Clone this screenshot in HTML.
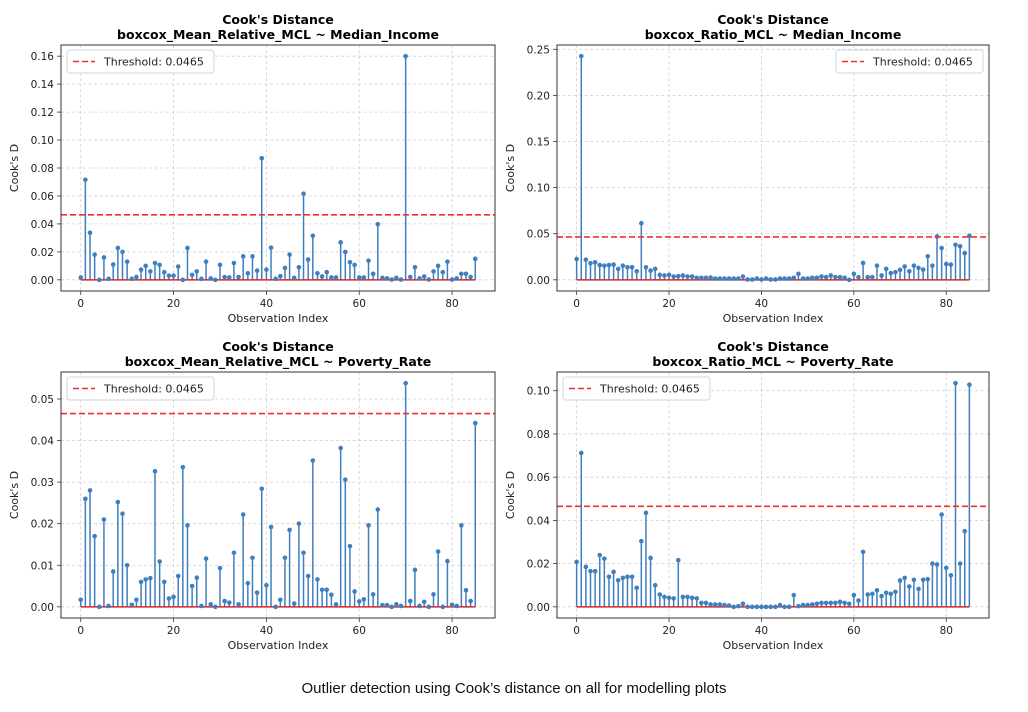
<!DOCTYPE html>
<html><head><meta charset="utf-8">
<style>
html,body{margin:0;padding:0;background:#fff;}
body{width:1028px;height:712px;overflow:hidden;position:relative;font-family:"DejaVu Sans","Liberation Sans",sans-serif;}
#caption{position:absolute;left:0;width:1028px;top:680px;text-align:center;font-family:"Liberation Sans",sans-serif;font-size:15px;color:#111;}
</style></head>
<body>
<svg id="fig" width="1028" height="712" xmlns="http://www.w3.org/2000/svg" style="position:absolute;left:0;top:0"></svg>
<div id="caption">Outlier detection using Cook’s distance on all for modelling plots</div>
<script>
const threshold = 0.0465;
const titles = ["boxcox_Mean_Relative_MCL ~ Median_Income","boxcox_Ratio_MCL ~ Median_Income","boxcox_Mean_Relative_MCL ~ Poverty_Rate","boxcox_Ratio_MCL ~ Poverty_Rate"];
const xTicks = [0,20,40,60,80];
const yTicks1 = [0,0.02,0.04,0.06,0.08,0.10,0.12,0.14,0.16];
const yTicks2 = [0,0.05,0.10,0.15,0.20,0.25];
const yTicks3 = [0,0.01,0.02,0.03,0.04,0.05];
const yTicks4 = [0,0.02,0.04,0.06,0.08,0.10];
const cooks1 = [0.0017,0.0716,0.0337,0.018,0,0.016,0.0007,0.011,0.0228,0.020,0.013,0.0007,0.002,0.0073,0.010,0.006,0.012,0.0107,0.0055,0.003,0.003,0.0095,0,0.0228,0.0035,0.006,0.0007,0.013,0.001,0,0.0107,0.002,0.0017,0.012,0.002,0.0168,0.0047,0.0168,0.0066,0.087,0.0073,0.023,0.0007,0.0026,0.0085,0.018,0.0014,0.009,0.0616,0.0145,0.0315,0.0047,0.0024,0.0055,0.0017,0.0017,0.0268,0.020,0.0126,0.0107,0.0017,0.0017,0.0137,0.0043,0.0398,0.0014,0.001,0.0002,0.0014,0.0002,0.16,0.002,0.009,0.001,0.0024,0.0002,0.006,0.010,0.0055,0.013,0.0002,0.001,0.0043,0.0043,0.002,0.015];
const cooks2 = [0.0226,0.2425,0.0219,0.018,0.019,0.016,0.0154,0.016,0.0165,0.0118,0.0154,0.0136,0.0136,0.0093,0.0614,0.0136,0.010,0.0118,0.0054,0.0047,0.0054,0.0036,0.004,0.0047,0.0036,0.0036,0.0022,0.0022,0.0022,0.0025,0.0014,0.0014,0.0014,0.0014,0.0014,0.0014,0.0036,0.0004,0.0004,0.0014,0.0004,0.0014,0.0004,0.0004,0.0014,0.0014,0.0014,0.0022,0.0065,0.0014,0.0014,0.0022,0.0022,0.0036,0.0029,0.0047,0.0029,0.0029,0.0022,0,0.0065,0.0029,0.0183,0.0029,0.0029,0.0154,0.0047,0.0118,0.0072,0.0083,0.0108,0.0144,0.0093,0.0154,0.0129,0.0111,0.0255,0.0154,0.047,0.0345,0.0172,0.0165,0.038,0.0363,0.029,0.0477];
const cooks3 = [0.0017,0.026,0.028,0.017,0,0.021,0.0002,0.0085,0.0252,0.0224,0.010,0.0005,0.0017,0.006,0.0066,0.0069,0.0326,0.0109,0.006,0.002,0.0024,0.0074,0.0336,0.0196,0.005,0.007,0.0002,0.0116,0.0006,0,0.0093,0.0014,0.001,0.013,0.0006,0.0222,0.0057,0.0118,0.0034,0.0284,0.0052,0.0192,0,0.0017,0.0118,0.0185,0.0008,0.020,0.013,0.0074,0.0352,0.0066,0.0041,0.0041,0.0029,0.0006,0.0382,0.0306,0.0146,0.0037,0.0013,0.0018,0.0196,0.003,0.0234,0.0004,0.0004,0,0.0006,0.0002,0.0538,0.0014,0.0089,0.0002,0.0012,0,0.003,0.0133,0,0.011,0.0005,0.0002,0.0196,0.004,0.0014,0.0442];
const cooks4 = [0.0208,0.0712,0.0185,0.0165,0.0165,0.0239,0.0223,0.0139,0.0162,0.0123,0.0134,0.0139,0.0139,0.0088,0.0304,0.0435,0.0226,0.010,0.0057,0.0046,0.0042,0.0039,0.0216,0.0046,0.0046,0.0042,0.0039,0.0018,0.0018,0.0011,0.0011,0.0011,0.0008,0.0006,0,0.0003,0.0014,0,0,0,0,0,0,0,0.0008,0,0,0.0054,0.0003,0.0008,0.0008,0.0011,0.0014,0.0018,0.0018,0.0018,0.0018,0.0023,0.0018,0.0014,0.0054,0.0029,0.0254,0.0057,0.006,0.0076,0.005,0.0065,0.006,0.0069,0.0122,0.0134,0.0094,0.0125,0.0083,0.0125,0.0128,0.0200,0.0196,0.0427,0.018,0.0146,0.1035,0.02,0.035,0.1028];

const NS = "http://www.w3.org/2000/svg";
const fig = document.getElementById('fig');
function mk(tag, attrs, parent, text){
  const e = document.createElementNS(NS, tag);
  for (const k in attrs) e.setAttribute(k, attrs[k]);
  if (text !== undefined) e.textContent = text;
  (parent||fig).appendChild(e);
  return e;
}

const boxes = [
  {l:61, r:495, t:45, b:291, legend:'left'},
  {l:557, r:989, t:45, b:291, legend:'right'},
  {l:61, r:495, t:372, b:618, legend:'left'},
  {l:557, r:989, t:372, b:618, legend:'left'}
];
const datasets = [cooks1, cooks2, cooks3, cooks4];
const yTickSets = [yTicks1, yTicks2, yTicks3, yTicks4];

function drawPanel(idx){
  const B = boxes[idx], data = datasets[idx], yt = yTickSets[idx];
  const g = mk('g', {});
  
  
  const n = data.length;
  const xmin = -0.05*(n-1), xmax = (n-1)*1.05;
  const dmax = Math.max(...data), dmin = Math.min(0, ...data);
  const rng = dmax - dmin;
  const ymin = dmin - 0.05*rng, ymax = dmax + 0.05*rng;
  const X = v => B.l + (v - xmin)/(xmax - xmin)*(B.r - B.l);
  const Y = v => B.b - (v - ymin)/(ymax - ymin)*(B.b - B.t);
  const cx = (B.l + B.r)/2;
  // titles
  const t1 = mk('text', {x:cx, y:B.t-21, 'text-anchor':'middle', 'font-size':'12.5', 'font-weight':'bold', fill:'#000'}, g, "Cook's Distance");
  
  
  const t2 = mk('text', {x:cx, y:B.t-6, 'text-anchor':'middle', 'font-size':'12.5', 'font-weight':'bold', fill:'#000'}, g, titles[idx]);
  
  
  // grid
  xTicks.forEach(v => {
    const gl = mk('line', {x1:X(v), x2:X(v), y1:B.t, y2:B.b, stroke:'#d0d0d0', 'stroke-width':0.8, 'stroke-dasharray':'3,2.5'}, g);
    
    
    const tk = mk('line', {x1:X(v), x2:X(v), y1:B.b, y2:B.b+4, stroke:'#333', 'stroke-width':0.8}, g);
    
    
    const tl = mk('text', {x:X(v), y:B.b+16, 'text-anchor':'middle', 'font-size':'10.5', fill:'#222'}, g, String(v));
    
    
  });
  yt.forEach(v => {
    const gl = mk('line', {x1:B.l, x2:B.r, y1:Y(v), y2:Y(v), stroke:'#d0d0d0', 'stroke-width':0.8, 'stroke-dasharray':'3,2.5'}, g);
    
    
    const tk = mk('line', {x1:B.l-4, x2:B.l, y1:Y(v), y2:Y(v), stroke:'#333', 'stroke-width':0.8}, g);
    
    
    const tl = mk('text', {x:B.l-7, y:Y(v)+4, 'text-anchor':'end', 'font-size':'10.5', fill:'#222'}, g, v.toFixed(2));
    
    
  });
  // stems
  data.forEach((v, i) => {
    const s = mk('line', {x1:X(i), x2:X(i), y1:Y(0), y2:Y(v), stroke:'#3f7fbf', 'stroke-width':1.5}, g);
    
    
  });
  const base = mk('line', {x1:X(0), x2:X(n-1), y1:Y(0), y2:Y(0), stroke:'#d62728', 'stroke-width':1.5}, g);
  
  
  data.forEach((v, i) => {
    const c = mk('circle', {cx:X(i), cy:Y(v), r:2.3, fill:'#3f7fbf'}, g);
    
    
  });
  const th = mk('line', {x1:B.l, x2:B.r, y1:Y(threshold), y2:Y(threshold), stroke:'#f03030', 'stroke-width':1.6, 'stroke-dasharray':'6,3'}, g);
  
  
  // frame
  const fr = mk('rect', {x:B.l, y:B.t, width:B.r-B.l, height:B.b-B.t, fill:'none', stroke:'#333', 'stroke-width':1}, g);
  
  
  // axis labels
  const xl = mk('text', {x:cx, y:B.b+31, 'text-anchor':'middle', 'font-size':'11', fill:'#222'}, g, 'Observation Index');
  
  
  const ly = (B.t + B.b)/2;
  const lx = B.l - 43;
  const yl = mk('text', {x:lx, y:ly, 'text-anchor':'middle', 'font-size':'11', fill:'#222', transform:'rotate(-90 '+lx+' '+ly+')'}, g, "Cook's D");
  
  
  // legend
  const lw = 147, lh = 23;
  const lx0 = B.legend === 'left' ? B.l+6 : B.r-6-lw;
  const lg = mk('g', {}, g);
  
  
  mk('rect', {x:lx0, y:B.t+5, width:lw, height:lh, rx:3, fill:'#fff', 'fill-opacity':0.85, stroke:'#d6d6d6', 'stroke-width':1}, lg);
  const ls = mk('line', {x1:lx0+6, x2:lx0+28, y1:B.t+16.5, y2:B.t+16.5, stroke:'#f03030', 'stroke-width':1.6, 'stroke-dasharray':'6,3'}, lg);
  
  
  const lt = mk('text', {x:lx0+37, y:B.t+20.5, 'font-size':'11', fill:'#222'}, lg, 'Threshold: ' + threshold);
  
  
}
for (let i = 0; i < 4; i++) drawPanel(i);
</script>
</body></html>
